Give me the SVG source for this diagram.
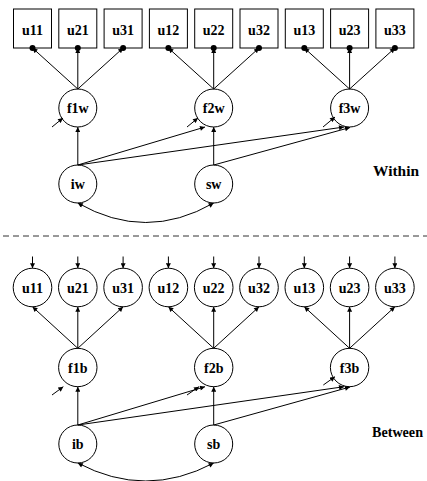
<svg xmlns="http://www.w3.org/2000/svg" width="427" height="481" viewBox="0 0 427 481">
<style>
.box{fill:#fff;stroke:#000;stroke-width:1}
.nd{fill:#fff;stroke:#000;stroke-width:1}
.lbl{font-family:"Liberation Serif","Times New Roman",serif;font-weight:bold;font-size:14px;text-anchor:middle;fill:#000}
.sec{font-family:"Liberation Serif","Times New Roman",serif;font-weight:bold;font-size:14.5px;fill:#000}
.ln{stroke:#000;stroke-width:1;fill:none;marker-end:url(#ah)}
.dot{fill:#000}
</style>
<defs>
<marker id="ah" viewBox="0 0 10 10" refX="10" refY="5" markerWidth="6" markerHeight="5" markerUnits="userSpaceOnUse" orient="auto-start-reverse">
<path d="M0,0 L10,5 L0,10 z" fill="#000"/>
</marker>
</defs>
<g id="u11w"><rect class="box" x="13.5" y="9" width="38" height="39"/><text class="lbl" x="32.5" y="35">u11</text></g>
<g id="u21w"><rect class="box" x="58.8" y="9" width="38" height="39"/><text class="lbl" x="77.8" y="35">u21</text></g>
<g id="u31w"><rect class="box" x="104.1" y="9" width="38" height="39"/><text class="lbl" x="123.1" y="35">u31</text></g>
<g id="u12w"><rect class="box" x="149.4" y="9" width="38" height="39"/><text class="lbl" x="168.4" y="35">u12</text></g>
<g id="u22w"><rect class="box" x="194.7" y="9" width="38" height="39"/><text class="lbl" x="213.7" y="35">u22</text></g>
<g id="u32w"><rect class="box" x="240" y="9" width="38" height="39"/><text class="lbl" x="259" y="35">u32</text></g>
<g id="u13w"><rect class="box" x="285.3" y="9" width="38" height="39"/><text class="lbl" x="304.3" y="35">u13</text></g>
<g id="u23w"><rect class="box" x="330.6" y="9" width="38" height="39"/><text class="lbl" x="349.6" y="35">u23</text></g>
<g id="u33w"><rect class="box" x="375.9" y="9" width="38" height="39"/><text class="lbl" x="394.9" y="35">u33</text></g>
<g id="f1w"><circle class="nd" cx="77.8" cy="108" r="19"/><text class="lbl" x="77.8" y="113">f1w</text></g>
<g id="f2w"><circle class="nd" cx="213.7" cy="108" r="19"/><text class="lbl" x="213.7" y="113">f2w</text></g>
<g id="f3w"><circle class="nd" cx="349.6" cy="108" r="19"/><text class="lbl" x="349.6" y="113">f3w</text></g>
<g id="iw"><circle class="nd" cx="77.8" cy="184" r="19"/><text class="lbl" x="77.8" y="189">iw</text></g>
<g id="sw"><circle class="nd" cx="213.7" cy="184" r="19"/><text class="lbl" x="213.7" y="189">sw</text></g>
<g id="u11b"><circle class="nd" cx="32.5" cy="287.5" r="19.3"/><text class="lbl" x="32.5" y="293">u11</text></g>
<g id="u21b"><circle class="nd" cx="77.8" cy="287.5" r="19.3"/><text class="lbl" x="77.8" y="293">u21</text></g>
<g id="u31b"><circle class="nd" cx="123.1" cy="287.5" r="19.3"/><text class="lbl" x="123.1" y="293">u31</text></g>
<g id="u12b"><circle class="nd" cx="168.4" cy="287.5" r="19.3"/><text class="lbl" x="168.4" y="293">u12</text></g>
<g id="u22b"><circle class="nd" cx="213.7" cy="287.5" r="19.3"/><text class="lbl" x="213.7" y="293">u22</text></g>
<g id="u32b"><circle class="nd" cx="259" cy="287.5" r="19.3"/><text class="lbl" x="259" y="293">u32</text></g>
<g id="u13b"><circle class="nd" cx="304.3" cy="287.5" r="19.3"/><text class="lbl" x="304.3" y="293">u13</text></g>
<g id="u23b"><circle class="nd" cx="349.6" cy="287.5" r="19.3"/><text class="lbl" x="349.6" y="293">u23</text></g>
<g id="u33b"><circle class="nd" cx="394.9" cy="287.5" r="19.3"/><text class="lbl" x="394.9" y="293">u33</text></g>
<g id="f1b"><circle class="nd" cx="77.8" cy="367.5" r="19.2"/><text class="lbl" x="77.8" y="372.5">f1b</text></g>
<g id="f2b"><circle class="nd" cx="213.7" cy="367.5" r="19.2"/><text class="lbl" x="213.7" y="372.5">f2b</text></g>
<g id="f3b"><circle class="nd" cx="349.6" cy="367.5" r="19.2"/><text class="lbl" x="349.6" y="372.5">f3b</text></g>
<g id="ib"><circle class="nd" cx="77.8" cy="444" r="19"/><text class="lbl" x="77.8" y="449">ib</text></g>
<g id="sb"><circle class="nd" cx="213.7" cy="444" r="19"/><text class="lbl" x="213.7" y="449">sb</text></g>
<g id="labels">
<text class="sec" x="373" y="176" textLength="46" lengthAdjust="spacingAndGlyphs">Within</text>
<text class="sec" x="372" y="437" textLength="51" lengthAdjust="spacingAndGlyphs">Between</text>
</g>
<line x1="3" y1="236" x2="427" y2="236" stroke="#333" stroke-width="1" stroke-dasharray="6,4"/>
<g id="connectors">
<line class="ln" x1="77.8" y1="89" x2="32.5" y2="48"/>
<line class="ln" x1="77.8" y1="89" x2="77.8" y2="48"/>
<line class="ln" x1="77.8" y1="89" x2="123.1" y2="48"/>
<line class="ln" x1="213.7" y1="89" x2="168.4" y2="48"/>
<line class="ln" x1="213.7" y1="89" x2="213.7" y2="48"/>
<line class="ln" x1="213.7" y1="89" x2="259" y2="48"/>
<line class="ln" x1="349.6" y1="89" x2="304.3" y2="48"/>
<line class="ln" x1="349.6" y1="89" x2="349.6" y2="48"/>
<line class="ln" x1="349.6" y1="89" x2="394.9" y2="48"/>
<circle class="dot" cx="32.5" cy="48" r="3"/>
<circle class="dot" cx="77.8" cy="48" r="3"/>
<circle class="dot" cx="123.1" cy="48" r="3"/>
<circle class="dot" cx="168.4" cy="48" r="3"/>
<circle class="dot" cx="213.7" cy="48" r="3"/>
<circle class="dot" cx="259" cy="48" r="3"/>
<circle class="dot" cx="304.3" cy="48" r="3"/>
<circle class="dot" cx="349.6" cy="48" r="3"/>
<circle class="dot" cx="394.9" cy="48" r="3"/>
<line class="ln" x1="77.8" y1="165" x2="77.8" y2="127"/>
<line class="ln" x1="77.8" y1="165" x2="205" y2="127"/>
<line class="ln" x1="77.8" y1="165" x2="344" y2="127"/>
<line class="ln" x1="213.7" y1="165" x2="213.7" y2="127"/>
<line class="ln" x1="213.7" y1="165" x2="350" y2="127.5"/>
<line class="ln" x1="52" y1="127" x2="63" y2="118"/>
<line class="ln" x1="187" y1="127" x2="198" y2="118"/>
<line class="ln" x1="323" y1="127" x2="335" y2="117"/>
<path class="ln" d="M77.8,203 Q145.7,242 213.7,203" marker-start="url(#ah)"/>
<line class="ln" x1="32.5" y1="256.5" x2="32.5" y2="268.2"/>
<line class="ln" x1="77.8" y1="256.5" x2="77.8" y2="268.2"/>
<line class="ln" x1="123.1" y1="256.5" x2="123.1" y2="268.2"/>
<line class="ln" x1="168.4" y1="256.5" x2="168.4" y2="268.2"/>
<line class="ln" x1="213.7" y1="256.5" x2="213.7" y2="268.2"/>
<line class="ln" x1="259" y1="256.5" x2="259" y2="268.2"/>
<line class="ln" x1="304.3" y1="256.5" x2="304.3" y2="268.2"/>
<line class="ln" x1="349.6" y1="256.5" x2="349.6" y2="268.2"/>
<line class="ln" x1="394.9" y1="256.5" x2="394.9" y2="268.2"/>
<line class="ln" x1="77.8" y1="348.3" x2="32.5" y2="306.8"/>
<line class="ln" x1="77.8" y1="348.3" x2="77.8" y2="306.8"/>
<line class="ln" x1="77.8" y1="348.3" x2="123.1" y2="306.8"/>
<line class="ln" x1="213.7" y1="348.3" x2="168.4" y2="306.8"/>
<line class="ln" x1="213.7" y1="348.3" x2="213.7" y2="306.8"/>
<line class="ln" x1="213.7" y1="348.3" x2="259" y2="306.8"/>
<line class="ln" x1="349.6" y1="348.3" x2="304.3" y2="306.8"/>
<line class="ln" x1="349.6" y1="348.3" x2="349.6" y2="306.8"/>
<line class="ln" x1="349.6" y1="348.3" x2="394.9" y2="306.8"/>
<line class="ln" x1="77.8" y1="425" x2="77.8" y2="386.7"/>
<line class="ln" x1="77.8" y1="425" x2="205" y2="386.7"/>
<line class="ln" x1="77.8" y1="425" x2="344" y2="386.7"/>
<line class="ln" x1="213.7" y1="425" x2="213.7" y2="386.7"/>
<line class="ln" x1="213.7" y1="425" x2="350" y2="387"/>
<line class="ln" x1="52" y1="395" x2="63.3" y2="386.7"/>
<line class="ln" x1="187" y1="395" x2="199" y2="386.7"/>
<line class="ln" x1="323.3" y1="385" x2="335" y2="376.7"/>
<path class="ln" d="M77.8,463 Q145.7,499 213.7,463" marker-start="url(#ah)"/>
</g>
</svg>
